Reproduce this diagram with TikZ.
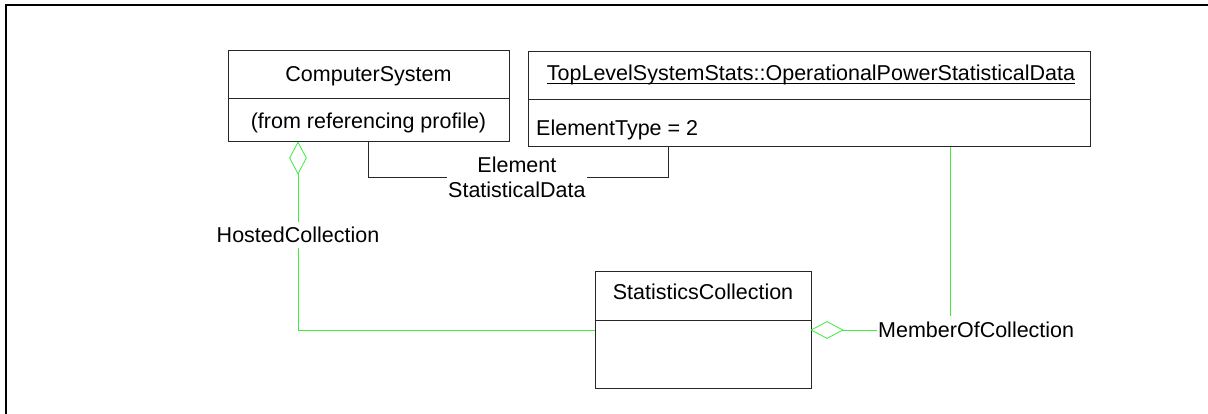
\documentclass[tikz,border=0pt]{standalone}
\usepackage{fontspec}
\setmainfont{Liberation Sans}
\usetikzlibrary{shapes.geometric}
\definecolor{assoc}{RGB}{60,235,60}
\begin{document}
\begin{tikzpicture}[x=1pt,y=-1pt, font=\fontsize{21.5}{25}\selectfont,
  box/.style={draw=black!85, line width=1pt, rectangle, inner sep=0pt},
  boxline/.style={draw=black!85, line width=1pt},
  txt/.style={inner sep=0pt, anchor=base},
  lbl/.style={inner xsep=1pt, inner ysep=5pt, anchor=base},
  assocline/.style={draw=assoc, line width=1pt},
  aggv/.style={diamond, draw=assoc, line width=0.8pt, inner sep=0pt, minimum width=17pt, minimum height=32pt},
  aggh/.style={diamond, draw=assoc, line width=0.8pt, inner sep=0pt, minimum width=32pt, minimum height=17pt}]
\useasboundingbox (0,0) rectangle (1208,414);
\draw[line width=2pt] (1208,5) -- (5.8,5) -- (5.8,414);

% ComputerSystem
\node[box, minimum width=281pt, minimum height=91pt] (cs) at (368.5,96.5) {};
\draw[boxline] (cs.west |- 0,99) -- (cs.east |- 0,99);
\node[txt] (csname) at (368.5,81.7) {ComputerSystem};
\node[txt] (csnote) at (368.5,128.4) {(from referencing profile)};

% TopLevelSystemStats
\node[box, minimum width=562pt, minimum height=95pt] (tl) at (809,99.5) {};
\draw[boxline] (tl.west |- 0,100) -- (tl.east |- 0,100);
\node[txt] (tlname) at (811,81) {TopLevelSystemStats::OperationalPowerStatisticalData};
\draw[black, line width=1pt] ([yshift=-2.2pt]tlname.base west) -- ([yshift=-2.2pt]tlname.base east);
\node[txt, anchor=base west] (tlattr) at (536,135.5) {ElementType = 2};

% StatisticsCollection
\node[box, minimum width=216pt, minimum height=116pt] (sc) at (703,330) {};
\draw[boxline] (sc.west |- 0,320) -- (sc.east |- 0,320);
\node[txt] (scname) at (703,299) {StatisticsCollection};

% ElementStatisticalData
\node[align=center, inner xsep=1pt, inner ysep=0pt, anchor=west] (esd) at (447,177.5) {Element\\StatisticalData};
\coordinate (tlb) at (668,147);
\draw[boxline] (cs.south) |- (esd.west);
\draw[boxline] (esd.east) -| (tlb);

% HostedCollection
\node[aggv] (d1) at (298,158) {};
\node[lbl] (hc) at (298,243) {HostedCollection};
\draw[assocline] (d1.south) -- (hc.north);
\draw[assocline] (hc.south) |- (sc.west);

% MemberOfCollection
\node[aggh] (d2) at (827,330) {};
\node[lbl, anchor=base west] (moc) at (877,337) {MemberOfCollection};
\coordinate (tlm) at (950,147);
\draw[assocline] (d2.east) -- (d2.east -| moc.west);
\draw[assocline] (tlm) -- (tlm |- moc.north);
\end{tikzpicture}
\end{document}
